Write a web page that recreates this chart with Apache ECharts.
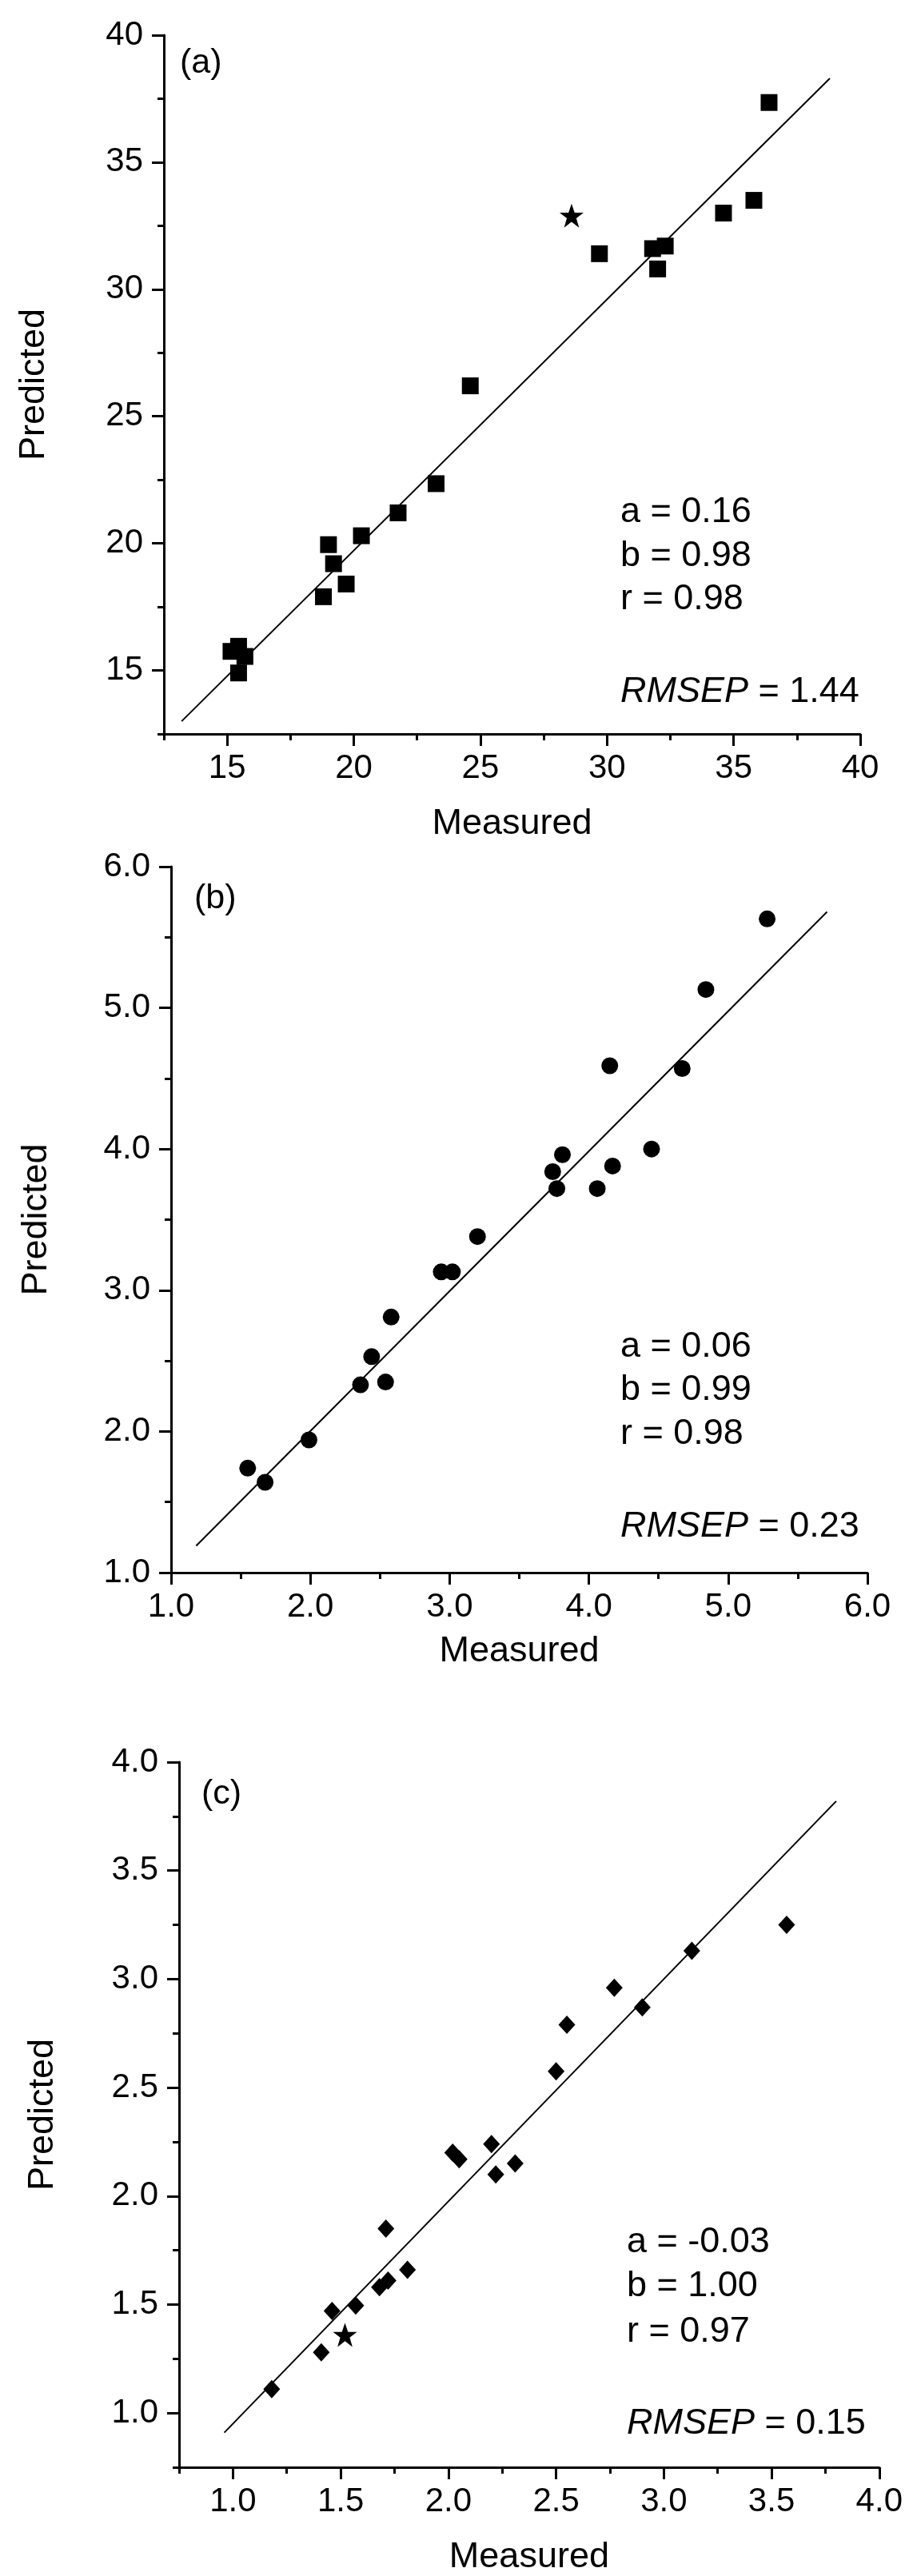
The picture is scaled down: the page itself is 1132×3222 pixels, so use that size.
<!DOCTYPE html>
<html>
<head>
<meta charset="utf-8">
<script src="https://cdn.jsdelivr.net/npm/echarts@6/dist/echarts.min.js"></script>
<style>
html,body{margin:0;padding:0;background:#fff;}
#chart{width:1132px;height:3222px;}
</style>
</head>
<body>
<div id="chart"></div>
<script>
// ---------- Panel (a) ----------
const measuredA  = [15.15,15.45,15.7,15.45,18.8,19.0,19.2,19.7,20.3,21.75,23.25,24.6,29.7,31.8,32.3,32.0,34.6,35.8,36.4];
const predictedA = [15.75,15.95,15.55,14.9,17.9,19.95,19.2,18.4,20.3,21.2,22.35,26.2,31.4,31.6,31.7,30.8,33.0,33.5,37.35];
const starA = [28.6, 32.9];
const fitAx = [13.2, 38.8];
const fitAy = [13.0, 38.3];
const majorTicksA = [15, 20, 25, 30, 35, 40];
const minorTicksA = [12.5, 17.5, 22.5, 27.5, 32.5, 37.5];
const statsA = ['a = 0.16', 'b = 0.98', 'r = 0.98'];
const rmsepA = '1.44';

// ---------- Panel (b) ----------
const measuredB  = [1.55,1.675,1.99,2.36,2.44,2.54,2.58,2.94,3.02,3.2,3.74,3.81,3.77,4.06,4.17,4.15,4.45,4.67,4.84,5.28];
const predictedB = [1.74,1.64,1.94,2.33,2.53,2.35,2.81,3.13,3.13,3.38,3.84,3.96,3.72,3.72,3.88,4.59,4.0,4.57,5.13,5.63];
const fitBx = [1.18, 5.71];
const fitBy = [1.19, 5.68];
const majorTicksB = [1, 2, 3, 4, 5, 6];
const minorTicksB = [1.5, 2.5, 3.5, 4.5, 5.5];
const statsB = ['a = 0.06', 'b = 0.99', 'r = 0.98'];
const rmsepB = '0.23';

// ---------- Panel (c) ----------
const measuredC  = [1.18,1.41,1.46,1.57,1.68,1.72,1.71,1.81,2.02,2.05,2.2,2.22,2.31,2.5,2.55,2.77,2.9,3.13,3.57];
const predictedC = [1.11,1.28,1.47,1.495,1.58,1.61,1.85,1.66,2.2,2.17,2.24,2.1,2.15,2.575,2.79,2.96,2.87,3.13,3.25];
const starC = [1.52, 1.36];
const fitCx = [0.96, 3.80];
const fitCy = [0.91, 3.82];
const majorTicksC = [1.0, 1.5, 2.0, 2.5, 3.0, 3.5, 4.0];
const minorTicksC = [0.75, 1.25, 1.75, 2.25, 2.75, 3.25, 3.75];
const statsC = ['a = -0.03', 'b = 1.00', 'r = 0.97'];
const rmsepC = '0.15';

const panelLabels = ['(a)', '(b)', '(c)'];
const xTitle = 'Measured';
const yTitle = 'Predicted';

// ---------- build ----------
const FONT = "'Liberation Sans', Arial, sans-serif";
const STAR = 'path://M12,0 L14.9,8.3 L23.4,8.3 L16.5,13.5 L19.1,22 L12,16.8 L4.9,22 L7.5,13.5 L0.6,8.3 L9.1,8.3 Z';

const grids = [
  {left: 205, top: 44,   width: 871, height: 874},
  {left: 214, top: 1084, width: 871, height: 883},
  {left: 224, top: 2204, width: 876, height: 883}
];
const ranges = [[12.5, 40], [1, 6], [0.75, 4]];
const majors = [majorTicksA, majorTicksB, majorTicksC];
const minors = [minorTicksA, minorTicksB, minorTicksC];
const fmts = [v => String(Math.round(v)), v => v.toFixed(1), v => v.toFixed(1)];
const yNameGap = [140, 146, 148];
const xNameGap = [90, 76, 90];

const xAxes = [], yAxes = [];
grids.forEach((g, i) => {
  const [mn, mx] = ranges[i];
  xAxes.push({
    type: 'value', gridIndex: i, min: mn, max: mx, position: 'bottom',
    name: xTitle, nameLocation: 'middle', nameGap: xNameGap[i],
    nameTextStyle: {fontFamily: FONT, fontSize: 45, color: '#000'},
    axisLine: {show: true, onZero: false, lineStyle: {color: '#000', width: 3}},
    axisTick: {show: true, inside: false, length: 15, customValues: majors[i], lineStyle: {color: '#000', width: 3}},
    axisLabel: {show: true, margin: 22, customValues: majors[i], formatter: fmts[i], fontFamily: FONT, fontSize: 42, color: '#000'},
    splitLine: {show: false}
  });
  xAxes.push({
    type: 'value', gridIndex: i, min: mn, max: mx, position: 'bottom', offset: 0,
    axisLine: {show: false, onZero: false},
    axisTick: {show: true, inside: false, length: 8, customValues: minors[i], lineStyle: {color: '#000', width: 3}},
    axisLabel: {show: false},
    splitLine: {show: false}
  });
  yAxes.push({
    type: 'value', gridIndex: i, min: mn, max: mx, position: 'left',
    name: yTitle, nameLocation: 'middle', nameGap: yNameGap[i], nameRotate: 90,
    nameTextStyle: {fontFamily: FONT, fontSize: 45, color: '#000'},
    axisLine: {show: true, onZero: false, lineStyle: {color: '#000', width: 3}},
    axisTick: {show: true, inside: false, length: 15, customValues: majors[i], lineStyle: {color: '#000', width: 3}},
    axisLabel: {show: true, margin: 26, customValues: majors[i], formatter: fmts[i], fontFamily: FONT, fontSize: 42, color: '#000'},
    splitLine: {show: false}
  });
  yAxes.push({
    type: 'value', gridIndex: i, min: mn, max: mx, position: 'left', offset: 0,
    axisLine: {show: false, onZero: false},
    axisTick: {show: true, inside: false, length: 8, customValues: minors[i], lineStyle: {color: '#000', width: 3}},
    axisLabel: {show: false},
    splitLine: {show: false}
  });
});

function zip(xs, ys) { return xs.map((x, k) => [x, ys[k]]); }
const dot = {color: '#000', opacity: 1};

const series = [
  {type: 'line', xAxisIndex: 0, yAxisIndex: 0, data: zip(fitAx, fitAy), showSymbol: false, silent: true,
   lineStyle: {color: '#000', width: 2}, z: 1},
  {type: 'scatter', xAxisIndex: 0, yAxisIndex: 0, data: zip(measuredA, predictedA), symbol: 'rect', symbolSize: 21,
   itemStyle: dot, z: 3},
  {type: 'scatter', xAxisIndex: 0, yAxisIndex: 0, data: [starA], symbol: STAR, symbolSize: 30,
   itemStyle: dot, z: 3},

  {type: 'line', xAxisIndex: 2, yAxisIndex: 2, data: zip(fitBx, fitBy), showSymbol: false, silent: true,
   lineStyle: {color: '#000', width: 2}, z: 1},
  {type: 'scatter', xAxisIndex: 2, yAxisIndex: 2, data: zip(measuredB, predictedB), symbol: 'circle', symbolSize: 21,
   itemStyle: dot, z: 3},

  {type: 'line', xAxisIndex: 4, yAxisIndex: 4, data: zip(fitCx, fitCy), showSymbol: false, silent: true,
   lineStyle: {color: '#000', width: 2}, z: 1},
  {type: 'scatter', xAxisIndex: 4, yAxisIndex: 4, data: zip(measuredC, predictedC), symbol: 'diamond', symbolSize: [21, 23],
   itemStyle: dot, z: 3},
  {type: 'scatter', xAxisIndex: 4, yAxisIndex: 4, data: [starC], symbol: STAR, symbolSize: 30,
   itemStyle: dot, z: 3}
];

// annotation text
const statSets = [statsA, statsB, statsC];
const rmseps = [rmsepA, rmsepB, rmsepC];
const statLeft = [776, 776, 784];
const statY = [[644, 699, 753, 869], [1688, 1742, 1797, 1913], [2808, 2863, 2920, 3035]];
const labelPos = [[225, 83], [243, 1128], [252, 2248]];
const graphic = [];
for (let i = 0; i < 3; i++) {
  statSets[i].forEach((t, k) => {
    graphic.push({type: 'text', left: statLeft[i], top: statY[i][k] - 26,
      style: {text: t, font: '45px ' + FONT, fill: '#000'}});
  });
  graphic.push({type: 'text', left: statLeft[i], top: statY[i][3] - 26,
    style: {text: '{i|RMSEP} = ' + rmseps[i], font: '45px ' + FONT, fill: '#000',
      rich: {i: {fontStyle: 'italic', fontFamily: FONT, fontSize: 45, fill: '#000'}}}});
  graphic.push({type: 'text', left: labelPos[i][0], top: labelPos[i][1] - 25,
    style: {text: panelLabels[i], font: '43px ' + FONT, fill: '#000'}});
}

const chart = echarts.init(document.getElementById('chart'), null, {renderer: 'canvas'});
chart.setOption({
  animation: false,
  backgroundColor: '#fff',
  grid: grids.map(g => Object.assign({containLabel: false}, g)),
  xAxis: xAxes,
  yAxis: yAxes,
  series: series,
  graphic: graphic
});
</script>
</body>
</html>
